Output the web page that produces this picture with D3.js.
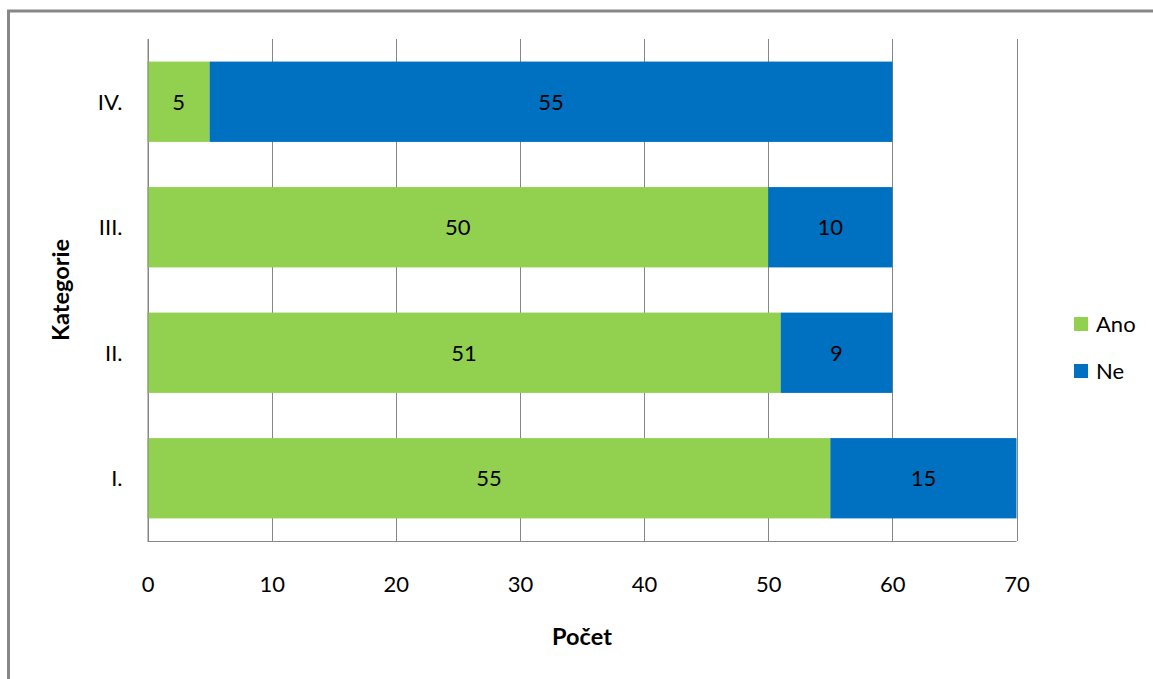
<!DOCTYPE html>
<html>
<head>
<meta charset="utf-8">
<script src="https://cdn.jsdelivr.net/npm/d3@7"></script>
<style>
  html, body { margin: 0; padding: 0; background: #fff; }
  svg { display: block; font-family: Lato, "Open Sans", sans-serif; }
</style>
</head>
<body>
<svg id="chart" width="1153" height="679"></svg>
<script>
// Categories (bottom to top) and stacked series values
const categories = ["I.", "II.", "III.", "IV."];
const ano = [55, 51, 50, 5];
const ne = [15, 9, 10, 55];
const seriesNames = ["Ano", "Ne"];
const seriesColors = ["#92D050", "#0070C0"];
const xTicks = [0, 10, 20, 30, 40, 50, 60, 70];

const svg = d3.select("#chart");
const W = 1153, H = 679;
const labelSize = 22;
const titleSize = 23.5;

// outer chart frame (only top and left edges fall inside the view)
svg.append("rect")
  .attr("x", 8.5).attr("y", 11)
  .attr("width", W + 20).attr("height", H + 20)
  .attr("fill", "none").attr("stroke", "#878787").attr("stroke-width", 3);

const plot = { left: 147.5, right: 1016.5, top: 39, bottom: 541 };

const x = d3.scaleLinear().domain([0, 70]).range([plot.left, plot.right]);
const y = d3.scaleBand()
  .domain(categories.slice().reverse())
  .range([plot.top, plot.bottom])
  .paddingInner(0.36).paddingOuter(0.18);

// vertical gridlines
svg.append("g").selectAll("line")
  .data(xTicks)
  .join("line")
  .attr("x1", d => Math.round(x(d)) + 0.5).attr("x2", d => Math.round(x(d)) + 0.5)
  .attr("y1", plot.top).attr("y2", plot.bottom)
  .attr("stroke", "#868686").attr("stroke-width", 1);

// stacked bars
const rows = categories.map((c, i) => ({ cat: c, Ano: ano[i], Ne: ne[i] }));
const stack = d3.stack().keys(seriesNames)(rows);

const layers = svg.append("g").selectAll("g")
  .data(stack)
  .join("g")
  .attr("fill", (d, i) => seriesColors[i]);

layers.selectAll("rect")
  .data(d => d)
  .join("rect")
  .attr("x", d => x(d[0]))
  .attr("width", d => x(d[1]) - x(d[0]))
  .attr("y", d => y(d.data.cat))
  .attr("height", y.bandwidth());

// value labels centred in each segment
layers.selectAll("text")
  .data(d => d.map(v => ({ v, key: d.key })))
  .join("text")
  .attr("x", d => (x(d.v[0]) + x(d.v[1])) / 2)
  .attr("y", d => y(d.v.data.cat) + y.bandwidth() / 2)
  .attr("dy", "0.36em")
  .attr("text-anchor", "middle")
  .attr("fill", "#000")
  .attr("font-size", labelSize)
  .text(d => d.v.data[d.key]);

// axes (baseline + vertical axis line)
svg.append("line")
  .attr("x1", plot.left).attr("x2", plot.right)
  .attr("y1", plot.bottom + 0.5).attr("y2", plot.bottom + 0.5)
  .attr("stroke", "#868686");
svg.append("line")
  .attr("x1", plot.left + 0.5).attr("x2", plot.left + 0.5)
  .attr("y1", plot.top).attr("y2", plot.bottom)
  .attr("stroke", "#868686");

// x tick labels
const xAxis = d3.axisBottom(x).tickValues(xTicks).tickSize(0).tickPadding(0);
const gx = svg.append("g").attr("transform", `translate(0,${plot.bottom})`).call(xAxis);
gx.select(".domain").remove();
gx.selectAll("text")
  .attr("y", 0).attr("dy", 0)
  .attr("transform", "translate(0,51)")
  .attr("font-size", labelSize).attr("font-family", "Lato, sans-serif").attr("fill", "#000");

// y tick labels
const yAxis = d3.axisLeft(y).tickSize(0).tickPadding(0);
const gy = svg.append("g").attr("transform", `translate(${plot.left},0)`).call(yAxis);
gy.select(".domain").remove();
gy.selectAll("text")
  .attr("x", -25).attr("dy", "0.36em")
  .attr("font-size", labelSize).attr("font-family", "Lato, sans-serif").attr("fill", "#000");

// axis titles
svg.append("text")
  .attr("x", 582).attr("y", 645)
  .attr("text-anchor", "middle").attr("font-weight", "bold").attr("font-size", titleSize)
  .text("Počet");
svg.append("text")
  .attr("transform", `translate(69,${(plot.top + plot.bottom) / 2}) rotate(-90)`)
  .attr("text-anchor", "middle").attr("font-weight", "bold").attr("font-size", titleSize)
  .text("Kategorie");

// legend
const legend = svg.append("g").attr("transform", "translate(1074,317)");
const li = legend.selectAll("g").data(seriesNames).join("g")
  .attr("transform", (d, i) => `translate(0,${i * 47})`);
li.append("rect").attr("width", 14).attr("height", 14).attr("fill", (d, i) => seriesColors[i]);
li.append("text").attr("x", 22).attr("y", 7).attr("dy", "0.36em")
  .attr("font-size", labelSize).text(d => d);
</script>
</body>
</html>
